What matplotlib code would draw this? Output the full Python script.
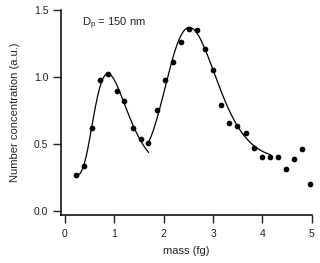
import numpy as np
import matplotlib
matplotlib.use("Agg")
import matplotlib.pyplot as plt

# measured points
mass = [0.22, 0.38, 0.54, 0.71, 0.88, 1.05, 1.20, 1.37, 1.53, 1.69,
        1.86, 2.02, 2.19, 2.35, 2.52, 2.68, 2.84, 3.00, 3.16, 3.33,
        3.49, 3.66, 3.83, 3.99, 4.15, 4.31, 4.48, 4.64, 4.81, 4.97]
conc = [0.27, 0.335, 0.62, 0.975, 1.02, 0.895, 0.82, 0.62, 0.54, 0.51,
        0.75, 0.975, 1.11, 1.26, 1.355, 1.35, 1.21, 1.055, 0.79, 0.655,
        0.635, 0.58, 0.47, 0.40, 0.40, 0.40, 0.31, 0.39, 0.465, 0.20]

# lognormal fits: y0 + A*exp(-(ln(x/x0)/w)^2), over [x_start, x_end]
fit1 = dict(y0=0.26, A=0.765, x0=0.87, w=0.55, x_start=0.22, x_end=1.69)
fit2 = dict(y0=0.38, A=0.99, x0=2.52, w=0.28, x_start=1.69, x_end=4.16)

plt.rcParams['font.family'] = ['Liberation Sans', 'DejaVu Sans']
plt.rcParams['mathtext.fontset'] = 'custom'
plt.rcParams['mathtext.rm'] = 'Liberation Sans'
plt.rcParams['mathtext.it'] = 'Liberation Sans'

fig = plt.figure(figsize=(3.2, 2.63), dpi=100)
ax = fig.add_axes([0.1906, 0.1825, 0.784, 0.7795])


def lognorm(p, x):
    return p['y0'] + p['A'] * np.exp(-(np.log(x / p['x0']) / p['w']) ** 2)


for p in (fit1, fit2):
    xx = np.linspace(p['x_start'], p['x_end'], 200)
    ax.plot(xx, lognorm(p, xx), color='black', lw=0.9)

ax.plot(mass, conc, 'o', color='black', ms=4.1, mew=0, clip_on=False)

ax.set_xlim(-0.08, 5.0)
ax.set_ylim(-0.03, 1.5)
ax.set_xticks([0, 1, 2, 3, 4, 5])
ax.set_yticks([0.0, 0.5, 1.0, 1.5])
ax.set_yticklabels(['0.0', '0.5', '1.0', '1.5'])

for s in ('top', 'right'):
    ax.spines[s].set_visible(False)
for s in ('left', 'bottom'):
    ax.spines[s].set_linewidth(1.1)
ax.tick_params(axis='both', direction='out', length=6, width=1.0,
               labelsize=7.5, colors='#222222')
ax.tick_params(axis='x', pad=4)
ax.tick_params(axis='y', pad=3)

ax.set_xlabel('mass (fg)', fontsize=8, labelpad=5, color='#222222')
ax.set_ylabel('Number concentration (a.u.)', fontsize=8, labelpad=10,
              color='#222222')

ax.text(0.345, 1.38, 'D$_\\mathregular{p}$ = 150 nm', fontsize=8,
        va='baseline', color='#222222')

fig.savefig('out.png', dpi=100)
